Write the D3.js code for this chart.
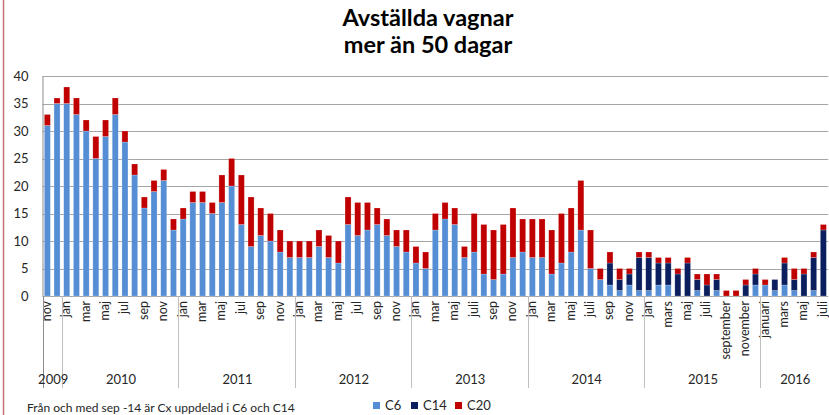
<!DOCTYPE html>
<html>
<head>
<meta charset="utf-8">
<script src="https://cdn.jsdelivr.net/npm/d3@7"></script>
<style>
  body { margin: 0; background: #fff; }
  svg { display: block; font-family: Lato, "Open Sans", sans-serif; }
</style>
</head>
<body>
<div id="main"></div>
<script>
// år och antal månader per år (nov 2009 - jul 2016)
var years = ['2009', '2010', '2011', '2012', '2013', '2014', '2015', '2016'];
var monthsPerYear = [2, 12, 12, 12, 12, 12, 12, 7];

// etiketter på varannan månad
var tickLabels = [
    'nov',
    'jan', 'mar', 'maj', 'jul', 'sep', 'nov',
    'jan', 'mar', 'maj', 'jul', 'sep', 'nov',
    'jan', 'mar', 'maj', 'jul', 'sep', 'nov',
    'jan', 'mar', 'maj', 'juli', 'sep', 'nov',
    'jan', 'mar', 'maj', 'juli', 'sep', 'nov',
    'jan', 'mars', 'maj', 'juli', 'september', 'november',
    'januari', 'mars', 'maj', 'juli'
];

var c6 = [
    31, 35,
    35, 33, 30, 25, 29, 33, 28, 22, 16, 19, 21, 12,
    14, 17, 17, 15, 17, 20, 13, 9, 11, 10, 8, 7,
    7, 7, 9, 7, 6, 13, 11, 12, 13, 11, 9, 8,
    6, 5, 12, 14, 13, 7, 8, 4, 3, 4, 7, 8,
    7, 7, 4, 6, 8, 12, 5, 3, 2, 1, 2, 1,
    1, 2, 2, 0, 0, 1, 0, 1, 0, 0, 0, 2,
    2, 1, 2, 1, 0, 1, 0
];
var c14 = [
    0, 0,
    0, 0, 0, 0, 0, 0, 0, 0, 0, 0, 0, 0,
    0, 0, 0, 0, 0, 0, 0, 0, 0, 0, 0, 0,
    0, 0, 0, 0, 0, 0, 0, 0, 0, 0, 0, 0,
    0, 0, 0, 0, 0, 0, 0, 0, 0, 0, 0, 0,
    0, 0, 0, 0, 0, 0, 0, 0, 4, 2, 2, 6,
    6, 4, 4, 4, 6, 2, 2, 2, 0, 0, 2, 2,
    0, 2, 4, 2, 4, 6, 12
];
var c20 = [
    2, 1,
    3, 3, 2, 4, 3, 3, 2, 2, 2, 2, 2, 2,
    2, 2, 2, 2, 5, 5, 9, 9, 5, 5, 4, 3,
    3, 3, 3, 4, 4, 5, 6, 5, 3, 3, 3, 4,
    3, 3, 3, 3, 3, 2, 7, 9, 9, 9, 9, 6,
    7, 7, 8, 9, 8, 9, 7, 2, 2, 2, 1, 1,
    1, 1, 1, 1, 1, 1, 2, 1, 1, 1, 1, 1,
    1, 0, 1, 2, 1, 1, 1
];

var seriesNames = ['C6', 'C14', 'C20'];
var colors = { C6: '#558ed5', C14: '#0b1f5e', C20: '#c00000' };

var width = 829, height = 415;
var plotLeft = 42.5, plotRight = 828.2, plotTop = 76, plotBottom = 296;

var n = c6.length;
var rows = d3.range(n).map(function (i) {
    return { i: i, C6: c6[i], C14: c14[i], C20: c20[i] };
});

var svg = d3.select('#main').append('svg').attr('width', width).attr('height', height);

// ram till vänster
svg.append('line')
    .attr('x1', 3.5).attr('x2', 3.5).attr('y1', 0).attr('y2', height)
    .attr('stroke', '#c9717a').attr('stroke-width', 1.5);

var x = d3.scaleBand().domain(d3.range(n)).range([plotLeft, plotRight])
    .paddingInner(0.38).paddingOuter(0.19);
var y = d3.scaleLinear().domain([0, 40]).range([plotBottom, plotTop]);

// rutnät
svg.append('g').selectAll('line')
    .data(y.ticks(8))
    .enter()
    .append('line')
    .attr('x1', plotLeft).attr('x2', plotRight)
    .attr('y1', function (d) { return Math.round(y(d)) + 0.5; })
    .attr('y2', function (d) { return Math.round(y(d)) + 0.5; })
    .attr('stroke', '#a6a6a6').attr('stroke-width', 1);

// y-axel
var yAxis = svg.append('g').attr('transform', 'translate(' + plotLeft + ',0)')
    .call(d3.axisLeft(y).ticks(8).tickSize(0).tickPadding(14));
yAxis.select('.domain').attr('stroke', '#8c8c8c');
yAxis.selectAll('text').attr('font-size', 13).attr('fill', '#262626')
    .attr('font-family', 'Lato, sans-serif');

// staplar
var stack = d3.stack().keys(seriesNames);
svg.append('g').selectAll('g')
    .data(stack(rows))
    .enter()
    .append('g')
    .attr('fill', function (d) { return colors[d.key]; })
    .selectAll('rect')
    .data(function (d) { return d; })
    .enter()
    .append('rect')
    .attr('x', function (d) { return x(d.data.i); })
    .attr('width', x.bandwidth())
    .attr('y', function (d) { return y(d[1]); })
    .attr('height', function (d) { return y(d[0]) - y(d[1]); })
    .attr('stroke', '#fff').attr('stroke-opacity', 0.35).attr('stroke-width', 0.6);

// månadsetiketter, varannan stapel
var tickIdx = d3.range(0, n, 2);
svg.append('g').selectAll('text')
    .data(tickIdx)
    .enter()
    .append('text')
    .attr('transform', function (d) {
        return 'translate(' + (x(d) + x.bandwidth() / 2 + 3.5) + ',' + (plotBottom + 5) + ') rotate(-90)';
    })
    .attr('text-anchor', 'end')
    .attr('font-size', 12.5)
    .attr('fill', '#262626')
    .text(function (d, k) { return tickLabels[k]; });

// årsgrupper
var starts = [0];
monthsPerYear.forEach(function (m, k) { starts.push(starts[k] + m); });
var step = x.step();
var edge = function (idx) { return plotLeft + idx * step; };

svg.append('g').selectAll('line')
    .data(starts.slice(0, years.length))
    .enter()
    .append('line')
    .attr('x1', function (d) { return Math.round(edge(d)) + 0.5; })
    .attr('x2', function (d) { return Math.round(edge(d)) + 0.5; })
    .attr('y1', plotBottom).attr('y2', 388)
    .attr('stroke', function (d) { return d === 0 ? '#8c8c8c' : '#bfbfbf'; })
    .attr('stroke-width', 1);

svg.append('g').selectAll('text')
    .data(years)
    .enter()
    .append('text')
    .attr('x', function (d, k) { return (edge(starts[k]) + edge(starts[k + 1])) / 2 + 1; })
    .attr('y', 384)
    .attr('text-anchor', 'middle')
    .attr('font-size', 13)
    .attr('fill', '#262626')
    .text(function (d) { return d; });

// titel
var title = svg.append('text')
    .attr('text-anchor', 'middle')
    .attr('font-size', 23.5)
    .attr('font-weight', 'bold')
    .attr('fill', '#000');
title.append('tspan').attr('x', 428).attr('y', 26).text('Avställda vagnar');
title.append('tspan').attr('x', 428).attr('y', 53).text('mer än 50 dagar');

// fotnot
svg.append('text')
    .attr('x', 27).attr('y', 412)
    .attr('font-size', 12)
    .attr('fill', '#262626')
    .text('Från och med  sep -14 är Cx uppdelad i C6 och C14');

// legend
var legendX = [373, 411, 455];
var legend = svg.append('g').selectAll('g')
    .data(seriesNames)
    .enter()
    .append('g')
    .attr('transform', function (d, k) { return 'translate(' + legendX[k] + ',402)'; });
legend.append('rect')
    .attr('width', 7).attr('height', 7)
    .attr('fill', function (d) { return colors[d]; });
legend.append('text')
    .attr('x', 12).attr('y', 8)
    .attr('font-size', 13)
    .attr('fill', '#262626')
    .text(function (d) { return d; });
</script>
</body>
</html>
